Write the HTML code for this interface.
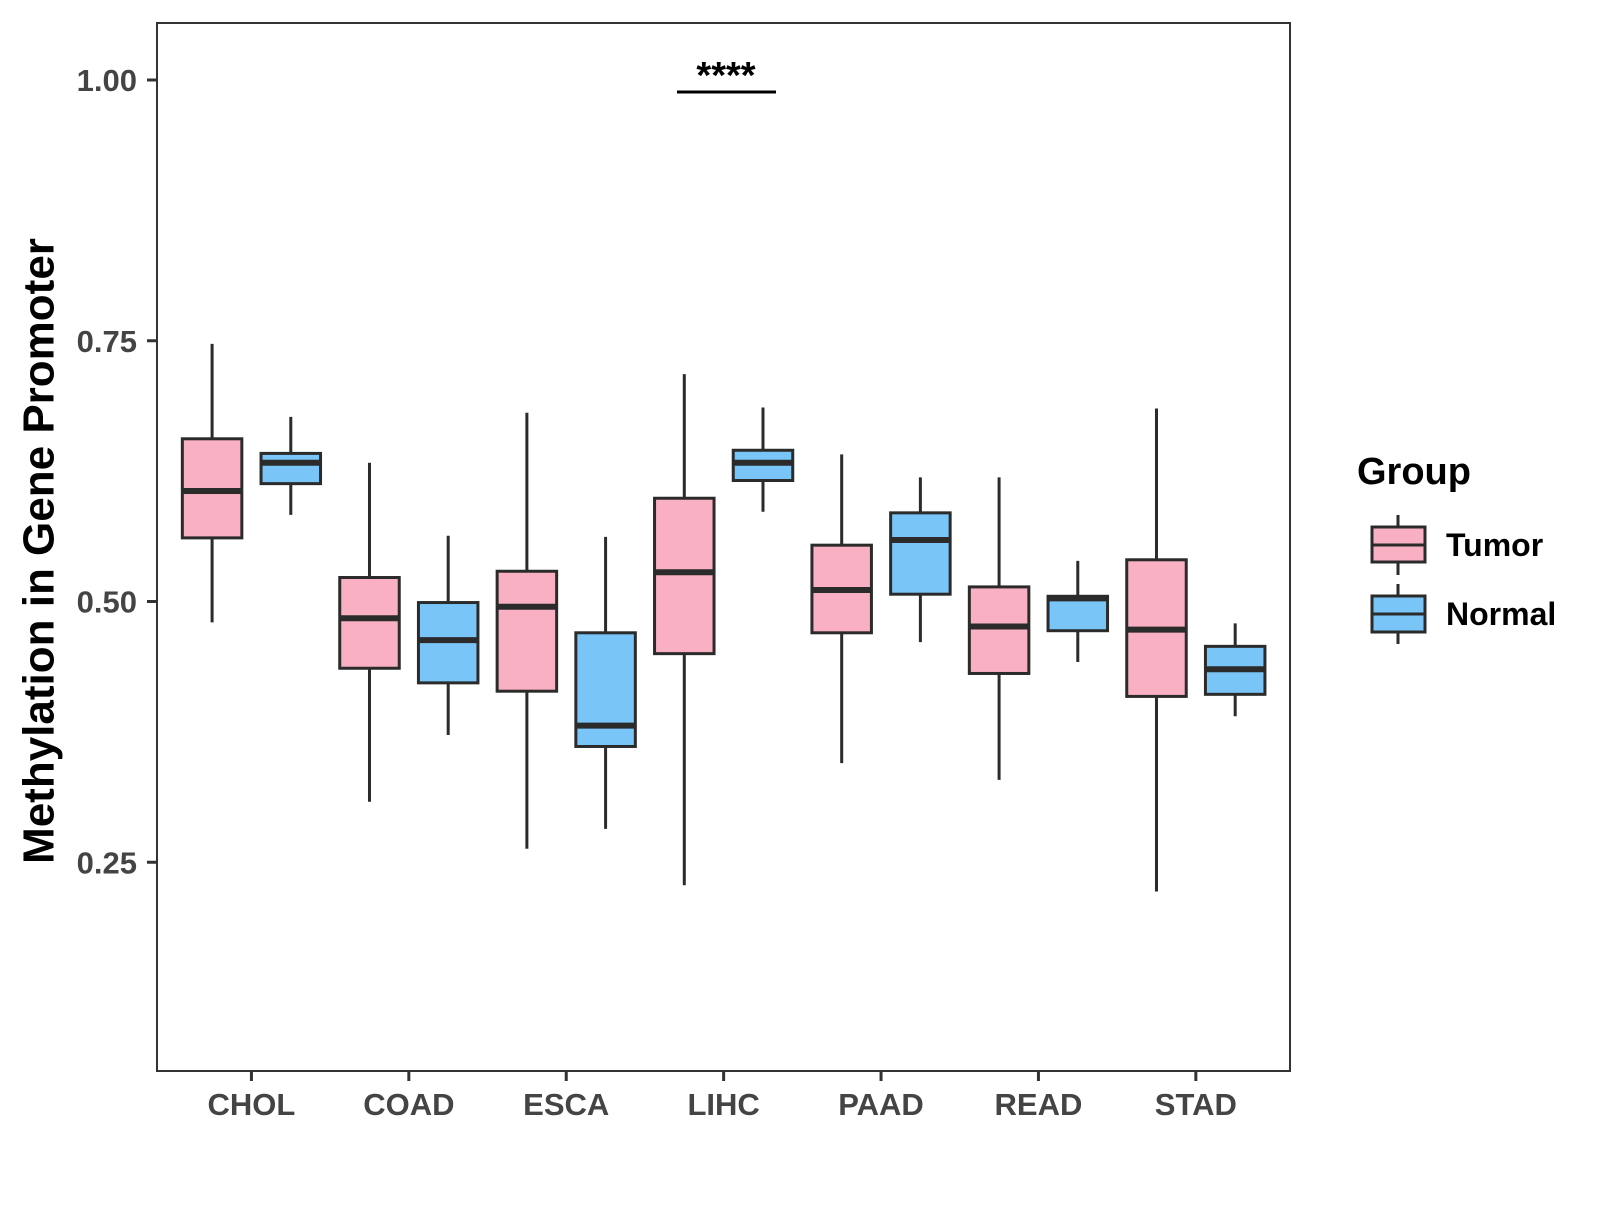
<!DOCTYPE html>
<html><head><meta charset="utf-8"><style>
html,body{margin:0;padding:0;background:#fff;}
svg text{font-family:"Liberation Sans",Arial,sans-serif;font-weight:bold;}
</style></head><body>
<svg id="chart" width="1600" height="1200" viewBox="0 0 1600 1200" xmlns="http://www.w3.org/2000/svg">
<rect x="0" y="0" width="1600" height="1200" fill="#fff"/>
<g id="marks"></g>
<rect x="157" y="23" width="1133" height="1048" fill="none" stroke="#333" stroke-width="2"/>
<g id="axes"></g>
<text x="39" y="551" transform="rotate(-90 39 551)" text-anchor="middle" font-size="44" fill="#000" dominant-baseline="central">Methylation in Gene Promoter</text>
<g>
<line x1="677" y1="92" x2="776" y2="92" stroke="#000" stroke-width="3"/>
<text x="726" y="88" text-anchor="middle" font-size="38" fill="#000">****</text>
</g>
<g>
<text x="1357" y="484" font-size="38" fill="#000">Group</text>
<g>
<line x1="1398" y1="515" x2="1398" y2="575" stroke="#2b2b2b" stroke-width="3"/>
<rect x="1372" y="527" width="53" height="35" fill="#F9B0C3" stroke="#2b2b2b" stroke-width="3"/>
<line x1="1372" y1="545" x2="1425" y2="545" stroke="#2b2b2b" stroke-width="3"/>
<text x="1446" y="556" font-size="32" fill="#000">Tumor</text>
</g>
<g>
<line x1="1398" y1="584" x2="1398" y2="644" stroke="#2b2b2b" stroke-width="3"/>
<rect x="1372" y="596" width="53" height="36" fill="#7AC5F8" stroke="#2b2b2b" stroke-width="3"/>
<line x1="1372" y1="614" x2="1425" y2="614" stroke="#2b2b2b" stroke-width="3"/>
<text x="1446" y="625" font-size="32" fill="#000">Normal</text>
</g>
</g>
</svg>
<script>
const categories=["CHOL","COAD","ESCA","LIHC","PAAD","READ","STAD"];
const tumorLow=[0.480,0.308,0.263,0.228,0.345,0.329,0.222];
const tumorQ1=[0.561,0.436,0.414,0.450,0.470,0.431,0.409];
const tumorMed=[0.606,0.484,0.495,0.528,0.511,0.476,0.473];
const tumorQ3=[0.656,0.523,0.529,0.599,0.554,0.514,0.540];
const tumorHigh=[0.747,0.633,0.681,0.718,0.641,0.619,0.685];
const normalLow=[0.583,0.372,0.282,0.586,0.461,0.442,0.390];
const normalQ1=[0.613,0.422,0.361,0.616,0.507,0.472,0.411];
const normalMed=[0.633,0.463,0.381,0.633,0.559,0.503,0.435];
const normalQ3=[0.642,0.499,0.470,0.645,0.585,0.505,0.457];
const normalHigh=[0.677,0.563,0.562,0.686,0.619,0.539,0.479];
const yTicks=[0.25,0.50,0.75,1.00];
const yTickLabels=["0.25","0.50","0.75","1.00"];

const NS="http://www.w3.org/2000/svg";
const left=157,unit=157.4;
function xScale(i){return left+(i+0.6)*unit;}
function yScale(v){return 80+(1-v)*1043;}
function mk(tag,attrs,parent){const e=document.createElementNS(NS,tag);for(const k in attrs)e.setAttribute(k,attrs[k]);parent.appendChild(e);return e;}
const marks=document.getElementById('marks'),axes=document.getElementById('axes');
const bw=0.378*unit,off=0.25*unit;
function drawBox(i,cx,lo,q1,md,q3,hi,fill,name){
  const g=mk('g',{},marks);
  
  
  mk('line',{x1:cx,x2:cx,y1:yScale(hi),y2:yScale(lo),stroke:'#2b2b2b','stroke-width':3},g);
  mk('rect',{x:cx-bw/2,y:yScale(q3),width:bw,height:yScale(q1)-yScale(q3),fill:fill,stroke:'#2b2b2b','stroke-width':3},g);
  mk('line',{x1:cx-bw/2,x2:cx+bw/2,y1:yScale(md),y2:yScale(md),stroke:'#2b2b2b','stroke-width':6},g);
}
categories.forEach((c,i)=>{
  const cx=xScale(i);
  drawBox(i,cx-off,tumorLow[i],tumorQ1[i],tumorMed[i],tumorQ3[i],tumorHigh[i],'#F9B0C3','box-tumor-'+c.toLowerCase());
  drawBox(i,cx+off,normalLow[i],normalQ1[i],normalMed[i],normalQ3[i],normalHigh[i],'#7AC5F8','box-normal-'+c.toLowerCase());
  const t=mk('line',{x1:cx,x2:cx,y1:1071,y2:1081,stroke:'#333','stroke-width':3},axes);
  
  
  const l=mk('text',{x:cx,y:1115,'text-anchor':'middle','font-size':31,fill:'#444'},axes);
  l.textContent=c;
  
  
});
yTicks.forEach((v,i)=>{
  const y=yScale(v);
  const t=mk('line',{x1:147,x2:157,y1:y,y2:y,stroke:'#333','stroke-width':3},axes);
  
  
  const l=mk('text',{x:137,y:y+11,'text-anchor':'end','font-size':31,fill:'#444'},axes);
  l.textContent=yTickLabels[i];
  
  
});
</script>
</body></html>
